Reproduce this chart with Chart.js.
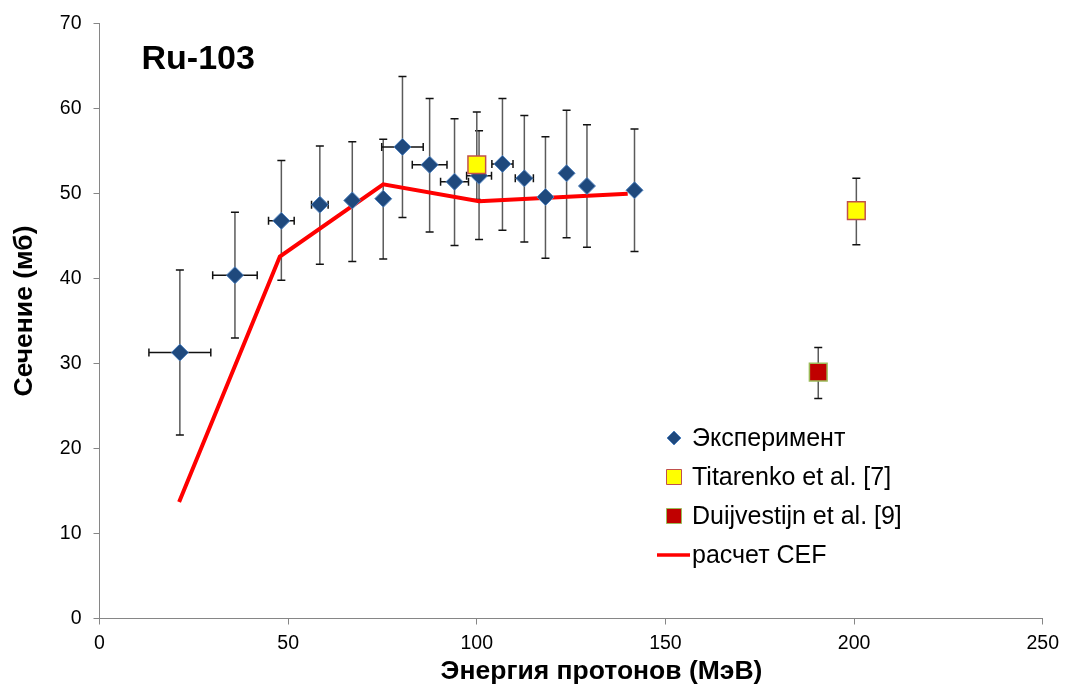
<!DOCTYPE html>
<html>
<head>
<meta charset="utf-8">
<script src="https://cdn.jsdelivr.net/npm/chart.js@4"></script>
<style>
  html, body { margin: 0; padding: 0; background: #fff; }
  #wrap { width: 1066px; height: 688px; }
</style>
</head>
<body>
<div id="wrap"><canvas id="chart" width="1066" height="688"></canvas></div>
<script>
// Эксперимент
const expX    = [21.3, 35.9, 48.2, 58.4, 67.0, 75.2, 80.3, 87.5, 94.1, 100.6, 106.8, 112.6, 118.2, 123.8, 129.2, 141.8];
const expY    = [31.3, 40.4, 46.8, 48.7, 49.2, 49.4, 55.5, 53.4, 51.4, 52.1, 53.5, 51.8, 49.6, 52.4, 50.9, 50.4];
const expYHi  = [41.0, 47.8, 53.9, 55.6, 56.1, 56.4, 63.8, 61.2, 58.8, 57.4, 61.2, 59.2, 56.7, 59.8, 58.1, 57.6];
const expYLo  = [21.6, 33.0, 39.8, 41.7, 42.0, 42.3, 47.2, 45.5, 43.9, 44.6, 45.7, 44.3, 42.4, 44.8, 43.7, 43.2];
const expXErr = [8.2, 5.9, 3.4, 2.2, 0, 0, 5.5, 4.6, 3.7, 3.3, 2.8, 2.4, 0, 0, 0, 0];

// Titarenko et al. [7]
const titX   = [100.0, 200.6];
const titY   = [53.4, 48.0];
const titYHi = [59.6, 51.8];
const titYLo = [49.3, 44.0];

// Duijvestijn et al. [9]
const duiX   = [190.5];
const duiY   = [29.0];
const duiYHi = [31.9];
const duiYLo = [25.9];

// расчет CEF
const cefX = [21.1, 47.8, 75.2, 100.6, 140.0];
const cefY = [13.7, 42.6, 51.1, 49.1, 50.0];

const xTicks = [0, 50, 100, 150, 200, 250];
const yTicks = [0, 10, 20, 30, 40, 50, 60, 70];

const xTitle = 'Энергия протонов (МэВ)';
const yTitle = 'Сечение (мб)';

const FONT = "'Liberation Sans', Arial, sans-serif";

function pts(xs, ys) {
    return xs.map((x, i) => ({ x: x, y: ys[i] }));
}

const errSets = [
    { x: expX, y: expY, hi: expYHi, lo: expYLo, xe: expXErr },
    { x: titX, y: titY, hi: titYHi, lo: titYLo, xe: null },
    { x: duiX, y: duiY, hi: duiYHi, lo: duiYLo, xe: null },
];

// error bars, drawn under the markers
const errorBars = {
    id: 'errorBars',
    beforeDatasetsDraw(chart) {
        const ctx = chart.ctx;
        const xs = chart.scales.x, ys = chart.scales.y;
        const cap = 4;
        ctx.save();
        ctx.lineWidth = 1.5;
        errSets.forEach(s => {
            s.x.forEach((xv, i) => {
                const px = xs.getPixelForValue(xv);
                const py = ys.getPixelForValue(s.y[i]);
                const pHi = ys.getPixelForValue(s.hi[i]);
                const pLo = ys.getPixelForValue(s.lo[i]);
                ctx.strokeStyle = '#5a5a5a';
                ctx.beginPath();
                ctx.moveTo(px, pHi);
                ctx.lineTo(px, pLo);
                ctx.stroke();
                ctx.strokeStyle = '#111';
                ctx.beginPath();
                ctx.moveTo(px - cap, pHi); ctx.lineTo(px + cap, pHi);
                ctx.moveTo(px - cap, pLo); ctx.lineTo(px + cap, pLo);
                ctx.stroke();
                if (s.xe && s.xe[i] > 0) {
                    const pl = xs.getPixelForValue(xv - s.xe[i]);
                    const pr = xs.getPixelForValue(xv + s.xe[i]);
                    ctx.beginPath();
                    ctx.moveTo(pl, py); ctx.lineTo(pr, py);
                    ctx.moveTo(pl, py - cap); ctx.lineTo(pl, py + cap);
                    ctx.moveTo(pr, py - cap); ctx.lineTo(pr, py + cap);
                    ctx.stroke();
                }
            });
        });
        ctx.restore();
    }
};

// titles and the legend box at lower right
const overlay = {
    id: 'overlay',
    afterDraw(chart) {
        const ctx = chart.ctx;
        const a = chart.chartArea;
        ctx.save();
        ctx.fillStyle = '#000';
        ctx.textBaseline = 'middle';
        ctx.textAlign = 'left';
        ctx.font = 'bold 34px ' + FONT;
        ctx.fillText('Ru-103', a.left + 42, a.top + 36);

        // axis titles (Excel puts them a bit off the plot centre)
        ctx.textAlign = 'center';
        ctx.font = 'bold 26.5px ' + FONT;
        ctx.fillText(xTitle, 601.5, 672);
        ctx.save();
        ctx.translate(25, 311);
        ctx.rotate(-Math.PI / 2);
        ctx.fillText(yTitle, 0, 0);
        ctx.restore();

        ctx.textAlign = 'left';
        const lx = 657, ly = 438, step = 39;
        ctx.font = '25px ' + FONT;
        chart.data.datasets.forEach((d, i) => {
            const y = ly + i * step;
            if (d.showLine) {
                ctx.strokeStyle = d.borderColor;
                ctx.lineWidth = 3.5;
                ctx.beginPath();
                ctx.moveTo(lx, y); ctx.lineTo(lx + 33, y);
                ctx.stroke();
            } else {
                ctx.fillStyle = d.backgroundColor;
                ctx.strokeStyle = d.borderColor;
                ctx.lineWidth = 1;
                ctx.beginPath();
                if (d.pointStyle === 'rectRot') {
                    const cx = lx + 17, r = 7;
                    ctx.moveTo(cx, y - r); ctx.lineTo(cx + r, y);
                    ctx.lineTo(cx, y + r); ctx.lineTo(cx - r, y);
                    ctx.closePath();
                } else {
                    ctx.rect(lx + 9.5, y - 7.5, 15, 15);
                }
                ctx.fill();
                ctx.stroke();
            }
            ctx.fillStyle = '#000';
            ctx.fillText(d.label, lx + 35, y + 1);
        });
        ctx.restore();
    }
};

new Chart(document.getElementById('chart'), {
    type: 'scatter',
    data: {
        datasets: [
            {
                label: 'Эксперимент',
                data: pts(expX, expY),
                pointStyle: 'rectRot',
                pointRadius: 8.5,
                backgroundColor: '#1F497D',
                borderColor: '#4F81BD',
                borderWidth: 1,
                order: 2,
            },
            {
                label: 'Titarenko et al. [7]',
                data: pts(titX, titY),
                pointStyle: 'rect',
                pointRadius: 12.5,
                backgroundColor: '#FFFF00',
                borderColor: '#C0504D',
                borderWidth: 1.5,
                order: 0,
            },
            {
                label: 'Duijvestijn et al. [9]',
                data: pts(duiX, duiY),
                pointStyle: 'rect',
                pointRadius: 12.5,
                backgroundColor: '#C00000',
                borderColor: '#9BBB59',
                borderWidth: 1.5,
                order: 1,
            },
            {
                label: 'расчет CEF',
                data: pts(cefX, cefY),
                showLine: true,
                borderColor: '#FF0000',
                borderWidth: 4,
                pointRadius: 0,
                tension: 0,
                order: 3,
            },
        ],
    },
    options: {
        responsive: false,
        animation: false,
        layout: { padding: { top: 23, right: 23, left: 0, bottom: 0 } },
        plugins: {
            legend: { display: false },
            tooltip: { enabled: false },
        },
        scales: {
            x: {
                type: 'linear',
                min: 0,
                max: 250,
                afterBuildTicks: s => { s.ticks = xTicks.map(v => ({ value: v })); },
                afterFit: s => { s.height = 69.5; },
                ticks: { color: '#000', font: { family: FONT, size: 19.5 }, padding: 7 },
                grid: { drawOnChartArea: false, tickLength: 6, color: '#868686' },
                border: { color: '#868686' },
            },
            y: {
                min: 0,
                max: 70,
                afterBuildTicks: s => { s.ticks = yTicks.map(v => ({ value: v })); },
                afterFit: s => { s.width = 99.5; },
                ticks: { color: '#000', font: { family: FONT, size: 19.5 }, padding: 12 },
                grid: { drawOnChartArea: false, tickLength: 6, color: '#868686' },
                border: { color: '#868686' },
            },
        },
    },
    plugins: [errorBars, overlay],
});
</script>
</body>
</html>
